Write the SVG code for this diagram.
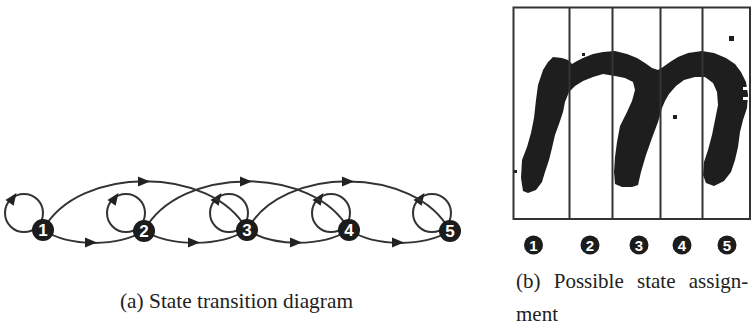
<svg xmlns="http://www.w3.org/2000/svg" xmlns:xlink="http://www.w3.org/1999/xlink" width="755" height="325" viewBox="0 0 755 325">
<style>
.edge{fill:none;stroke:#333;stroke-width:2}
.node circle{fill:#1c1c1c}
.node text{fill:#fff;font-family:"Liberation Sans",Arial,sans-serif;font-weight:bold;font-size:17px;text-anchor:middle}
.sm text{font-size:15px}
.lbl{font-family:"Liberation Serif","Times New Roman",serif;font-size:21px;fill:#222}
.grid{fill:none;stroke:#333;stroke-width:2}
.blob{fill:#1e1e1e}
</style>
<defs>
<path id="ah" d="M6,0 L-6,-5 L-6,5 Z" fill="#222"/>
</defs>
<rect width="755" height="325" fill="#fff"/>

<g id="connectors">
<circle class="edge" cx="24" cy="213" r="19"/>
<circle class="edge" cx="126" cy="213" r="19"/>
<circle class="edge" cx="229" cy="213" r="19"/>
<circle class="edge" cx="331" cy="213" r="19"/>
<circle class="edge" cx="432" cy="213" r="19"/>
<use xlink:href="#ah" transform="translate(13,198) rotate(-55)"/>
<use xlink:href="#ah" transform="translate(115,198) rotate(-55)"/>
<use xlink:href="#ah" transform="translate(218,198) rotate(-55)"/>
<use xlink:href="#ah" transform="translate(320,198) rotate(-55)"/>
<use xlink:href="#ah" transform="translate(421,198) rotate(-55)"/>
<path class="edge" d="M43,230 C70,247 117,247 144,231"/>
<path class="edge" d="M144,231 C172,247 219,247 247,230"/>
<path class="edge" d="M247,230 C274,247 322,247 349,230"/>
<path class="edge" d="M349,230 C376,247 423,247 450,231"/>
<use xlink:href="#ah" transform="translate(91,242.5)"/>
<use xlink:href="#ah" transform="translate(194,242.5)"/>
<use xlink:href="#ah" transform="translate(296,242.5)"/>
<use xlink:href="#ah" transform="translate(398,242.5)"/>
<path class="edge" d="M43,230 C78,165 212,165 247,230"/>
<path class="edge" d="M144,231 C179,165 314,165 349,230"/>
<path class="edge" d="M247,230 C282,165 415,165 450,231"/>
<use xlink:href="#ah" transform="translate(144,181.5)"/>
<use xlink:href="#ah" transform="translate(246,181.5)"/>
<use xlink:href="#ah" transform="translate(348,181.5)"/>
</g>

<g id="n1" class="node"><circle cx="43" cy="230" r="11"/><text x="43" y="236">1</text></g>
<g id="n2" class="node"><circle cx="144" cy="231" r="11"/><text x="144" y="237">2</text></g>
<g id="n3" class="node"><circle cx="247" cy="230" r="11"/><text x="247" y="236">3</text></g>
<g id="n4" class="node"><circle cx="349" cy="230" r="11"/><text x="349" y="236">4</text></g>
<g id="n5" class="node"><circle cx="450" cy="231" r="11"/><text x="450" y="237">5</text></g>

<text class="lbl" x="120" y="308" textLength="233" lengthAdjust="spacingAndGlyphs">(a) State transition diagram</text>

<g id="panel-b">
<path class="blob" d="M523,191 L521,178 L522,160 L527,147 L531,133 L534,118 L536,100 L538,85 L543,70 L548,62 L553,57 L562,58 L568,60 L572,64 L577,61 L583,58 L593,54 L603,52 L615,51 L627,54 L637,58 L645,63 L652,68 L658,70 L663,67 L670,62 L678,57 L688,53 L702,51 L714,53 L726,58 L735,64 L741,72 L746,82 L748,95 L747,108 L743,120 L740,132 L738,147 L735,160 L731,172 L724,181 L714,186 L706,183 L703,175 L704,162 L708,150 L712,135 L715,120 L718,105 L717,92 L713,83 L705,77 L695,77 L684,80 L676,86 L669,94 L665,101 L662,108 L658,122 L652,138 L646,155 L641,172 L638,185 L632,187 L622,187 L615,184 L614,172 L615,157 L617,142 L620,126 L627,112 L632,101 L635,90 L633,82 L625,78 L615,76 L603,74 L593,77 L583,81 L575,86 L569,92 L565,102 L563,112 L559,124 L555,135 L552,148 L549,160 L545,172 L542,182 L536,190 L528,193 Z"/>
<rect class="blob" x="514" y="170" width="3" height="3"/>
<rect class="blob" x="582" y="53" width="3" height="3"/>
<rect class="blob" x="673" y="115" width="4" height="4"/>
<rect class="blob" x="729" y="36" width="5" height="5"/>
<rect x="625" y="96" width="3" height="3" fill="#fff"/>
<rect x="743" y="87" width="5" height="3" fill="#fff"/>
<rect x="743" y="97" width="5" height="3" fill="#fff"/>
<rect class="grid" x="513.5" y="7.5" width="236.5" height="211.5"/>
<line class="grid" x1="569.5" y1="7.5" x2="569.5" y2="219"/>
<line class="grid" x1="612.5" y1="7.5" x2="612.5" y2="219"/>
<line class="grid" x1="660.5" y1="7.5" x2="660.5" y2="219"/>
<line class="grid" x1="702.5" y1="7.5" x2="702.5" y2="219"/>
<g class="node sm"><circle cx="533.5" cy="245" r="9.5"/><text x="533.5" y="250.5">1</text></g>
<g class="node sm"><circle cx="590" cy="245" r="9.5"/><text x="590" y="250.5">2</text></g>
<g class="node sm"><circle cx="639" cy="245" r="9.5"/><text x="639" y="250.5">3</text></g>
<g class="node sm"><circle cx="682" cy="245" r="9.5"/><text x="682" y="250.5">4</text></g>
<g class="node sm"><circle cx="727" cy="245" r="9.5"/><text x="727" y="250.5">5</text></g>
<text class="lbl" x="516" y="288" word-spacing="8">(b) Possible state assign-</text>
<text class="lbl" x="516" y="321">ment</text>
</g>
</svg>
